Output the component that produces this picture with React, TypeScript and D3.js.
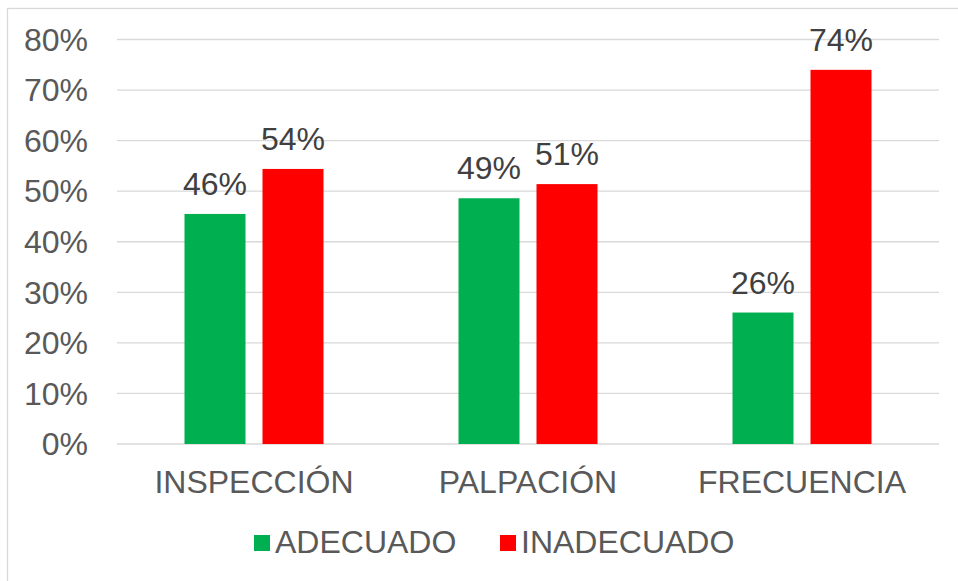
import React from 'react';
import * as d3 from 'd3';

// data
const categories = ['INSPECCIÓN', 'PALPACIÓN', 'FRECUENCIA'];
const seriesNames = ['ADECUADO', 'INADECUADO'];
const adecuado = [45.5, 48.6, 26.0];
const inadecuado = [54.4, 51.4, 74.0];
const yTicks = [0, 10, 20, 30, 40, 50, 60, 70, 80];
const colors = ['#00B050', '#FF0000'];

export default function App() {
    const width = 958, height = 581;
    const left = 117, right = 939, top = 39.5, bottom = 444;
    const font = 'Arial, "Liberation Sans", sans-serif';
    const fs = 32;

    const x = d3.scaleBand().domain(categories).range([left, right]);
    const y = d3.scaleLinear().domain([0, 80]).range([bottom, top]);
    const barW = 61, gap = 17;

    const series = [adecuado, inadecuado];

    return (
        <svg width={width} height={height} style={{position: 'absolute', left: 0, top: 0}}>
            <rect x={0} y={0} width={width} height={height} fill="#fff" />
            <rect x={7.5} y={8.5} width={width + 10} height={height + 10} fill="none" stroke="#d9d9d9" strokeWidth={1.3} />

            {/* gridlines + tick labels */}
            {yTicks.map(t => (
                <g key={t}>
                    <line x1={left} x2={right} y1={y(t)} y2={y(t)} stroke="#d9d9d9" strokeWidth={1.3} />
                    <text x={88} y={y(t)} dy="0.35em" textAnchor="end" fontFamily={font} fontSize={fs} fill="#595959">
                        {t}%
                    </text>
                </g>
            ))}

            {/* bars */}
            {categories.map((c, i) => {
                const cx = (x(c) as number) + x.bandwidth() / 2;
                return series.map((s, j) => {
                    const bx = j === 0 ? cx - gap / 2 - barW : cx + gap / 2;
                    return (
                        <g key={c + j}>
                            <rect x={bx} y={y(s[i])} width={barW} height={y(0) - y(s[i])} fill={colors[j]} />
                            <text x={bx + barW / 2} y={y(s[i]) - 19} textAnchor="middle" fontFamily={font} fontSize={fs} fill="#404040">
                                {Math.round(s[i])}%
                            </text>
                        </g>
                    );
                });
            })}

            {/* category labels */}
            {categories.map(c => (
                <text key={c} x={(x(c) as number) + x.bandwidth() / 2} y={493} textAnchor="middle" fontFamily={font} fontSize={fs} fill="#595959">
                    {c}
                </text>
            ))}

            {/* legend */}
            {seriesNames.map((n, j) => {
                const lx = j === 0 ? 254 : 500;
                return (
                    <g key={n}>
                        <rect x={lx} y={535} width={16} height={16} fill={colors[j]} />
                        <text x={lx + 21} y={553} fontFamily={font} fontSize={fs} fill="#595959">{n}</text>
                    </g>
                );
            })}
        </svg>
    );
}
